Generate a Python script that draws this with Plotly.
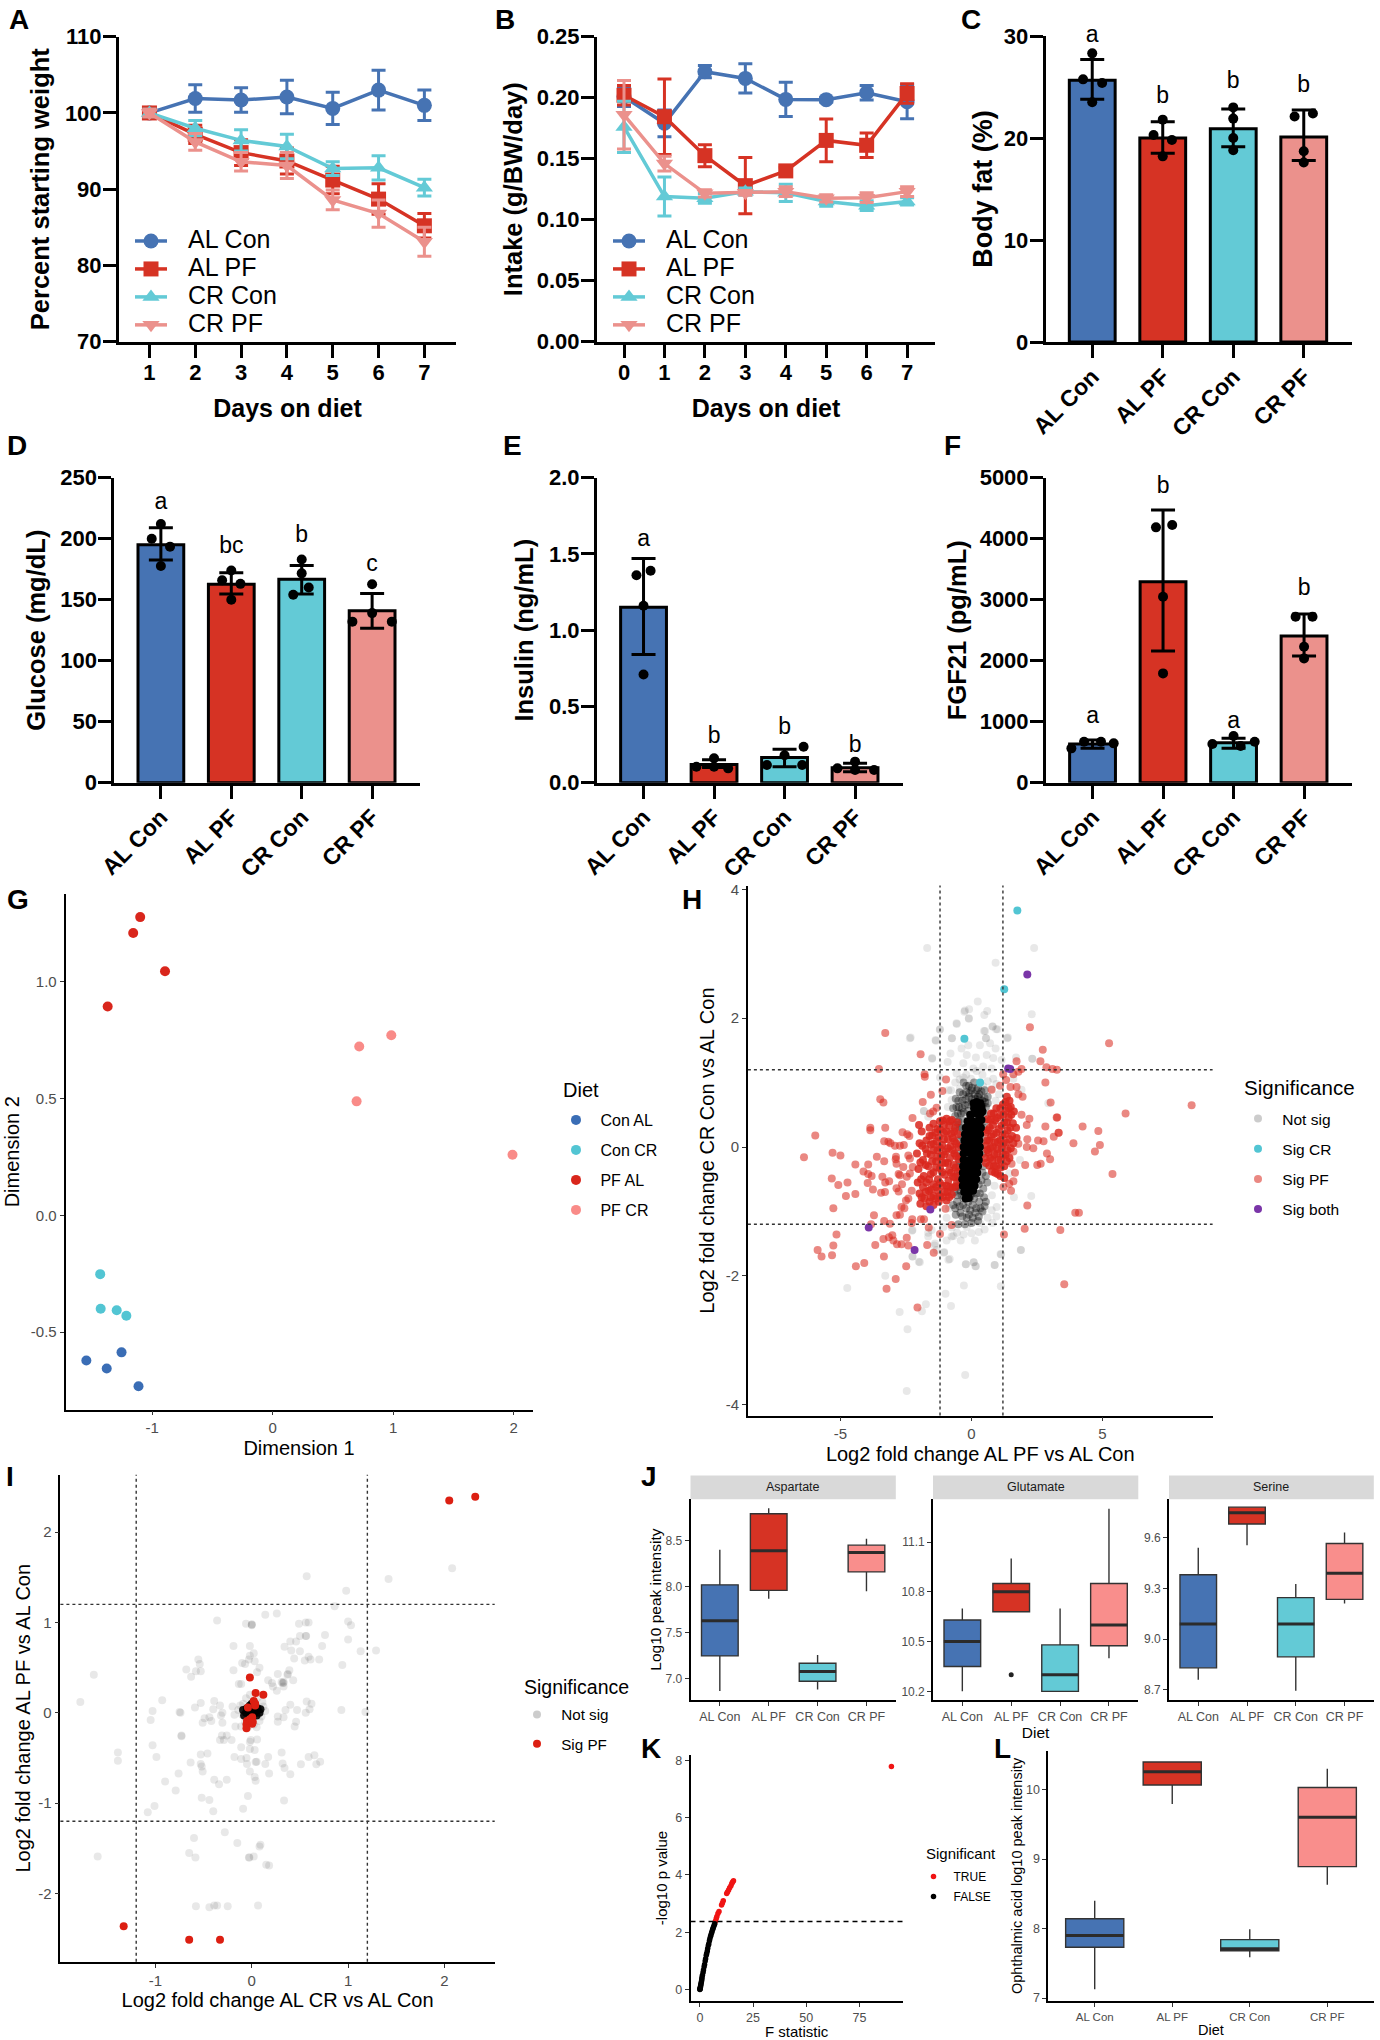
import plotly.graph_objects as go

W, H = 1380, 2040
FONT = "Liberation Sans"
BLUE, RED, CYAN, PINK = "#4673B3", "#D63324", "#63CAD6", "#EB918C"
GG_BLUE, GG_RED, GG_CYAN, GG_PINK = "#3A6DB5", "#D9261C", "#52C5D3", "#F98B88"
CATS = ["AL Con", "AL PF", "CR Con", "CR PF"]
COLS = [BLUE, RED, CYAN, PINK]

# ---------- A
A_days = [1, 2, 3, 4, 5, 6, 7]
A_al_con = [100, 101.9, 101.7, 102.1, 100.6, 103, 101]
A_al_con_e = [0.7, 1.8, 1.6, 2.2, 2.1, 2.6, 2]
A_al_pf = [100, 97.2, 94.8, 93.7, 91.2, 88.7, 85.2]
A_al_pf_e = [0.7, 1.2, 1.7, 1.7, 1.8, 2, 1.6]
A_cr_con = [100, 98, 96.4, 95.6, 92.7, 92.8, 90.2]
A_cr_con_e = [0.5, 1, 1.4, 1.6, 0.9, 1.6, 1.1]
A_cr_pf = [100, 96.2, 93.6, 93.1, 88.6, 86.8, 83.1]
A_cr_pf_e = [0.5, 1.1, 1.2, 1.7, 1.3, 1.8, 1.9]
# ---------- B
B_days = [0, 1, 2, 3, 4, 5, 6, 7]
B_al_con = [.2008, .179, .2213, .2158, .1986, .1984, .2041, .1967]
B_al_con_e = [.008, .011, .005, .012, .014, .002, .006, .014]
B_al_pf = [.202, .1844, .1525, .1279, .14, .165, .161, .2035]
B_al_pf_e = [.008, .031, .009, .023, .003, .0176, .01, .008]
B_cr_con = [.176, .119, .1175, .123, .122, .115, .1115, .115]
B_cr_con_e = [.021, .016, .004, .003, .007, .004, .004, .003]
B_cr_pf = [.186, .146, .1216, .122, .123, .1175, .118, .123]
B_cr_pf_e = [.028, .006, .003, .002, .004, .003, .004, .004]
# ---------- C-F: bars, upper cap, lower cap, points, letters
C_bar = [25.65, 20, 20.9, 20.1]
C_hi = [27.7, 21.6, 22.85, 22.75]
C_lo = [23.8, 18.5, 19.15, 17.8]
C_pts_x = [0, -.13, .14, 0, 1, .87, 1.13, 1, 2, 2, 2, 2, 2.87, 3.13, 3, 3]
C_pts_y = [28.3, 25.75, 25.4, 23.5, 21.8, 20.3, 19.8, 18.2, 23, 21.9, 20, 18.8, 22.1, 22.4, 18.7, 17.6]
C_let = ["a", "b", "b", "b"]
C_let_y = [29.95, 24, 25.5, 25.1]
D_bar = [195, 162.6, 166.7, 141]
D_hi = [209, 172, 178, 155]
D_lo = [182.5, 154.6, 154.6, 126.5]
D_pts_x = [0, -.13, .13, 0, 1, .87, 1.13, 1, 2, 2, 2.1, 1.88, 3, 3, 2.72, 3.28]
D_pts_y = [212, 200, 193.5, 177.6, 174, 166, 163, 150, 183, 171.6, 160, 154, 162.6, 139, 132, 132]
D_let = ["a", "bc", "b", "c"]
D_let_y = [229, 193, 201.6, 178]
E_bar = [1.15, .12, .166, .098]
E_hi = [1.47, .15, .22, .127]
E_lo = [.84, .1, .105, .072]
E_pts_x = [.1, -.1, 0, 0, 1, .75, 1, 1.2, 2.27, 2, 1.75, 2.25, 3, 2.75, 3, 3.27]
E_pts_y = [1.39, 1.36, 1.16, .71, .16, .105, .105, .094, .236, .18, .116, .116, .138, .094, .083, .083]
E_let = ["a", "b", "b", "b"]
E_let_y = [1.59, .30, .36, .236]
F_bar = [634, 3295, 656, 2404]
F_hi = [700, 4470, 727, 2765]
F_lo = [563, 2158, 563, 2077]
F_pts_x = [-.12, .12, .3, -.3, .9, 1.13, 1, 1, 2, 2.3, 1.7, 2.1, 2.88, 3.12, 3, 3]
F_pts_y = [672, 672, 645, 563, 4186, 4224, 3049, 1792, 765, 672, 634, 601, 2721, 2721, 2230, 2038]
F_let = ["a", "b", "a", "b"]
F_let_y = [1071, 4836, 984, 3175]
# ---------- G
G_con_al = [(-1.547, -.6215), (-1.255, -.587), (-1.378, -.656), (-1.114, -.732)]
G_con_cr = [(-1.432, -.252), (-1.428, -.40), (-1.295, -.407), (-1.215, -.43)]
G_pf_al = [(-1.10, 1.277), (-1.158, 1.209), (-.894, 1.045), (-1.37, .894)]
G_pf_cr = [(.984, .771), (.718, .723), (.696, .488), (1.99, .259)]
# ---------- H
H_notsig = [(-1.69,3.09),(2.39,3.09),(.92,2.86),(.24,2.26),(-.27,2.10),(-.09,2.14),(.60,2.11),(.49,2.05),(-.10,1.99),(2.30,2.06),(-.56,1.91),(.80,1.87),(.94,1.83),(.48,1.80),(-1.21,1.82),(-2.35,1.69),(-1.36,1.65),(-.75,1.69),(.56,1.69),(1.36,1.69),(-1.50,1.37),(2.32,1.37),(-1.82,.56),(2.93,.68),(2.28,-.76),(1.62,-.78),(1.89,-1.60),(-2.01,-1.78),(-2.25,-1.70),(-3.29,-2.0),(-4.74,-2.19),(-.29,-2.15),(1.12,-2.16),(-.99,-2.28),(-1.74,-2.44),(-.78,-2.47),(-1.89,-2.55),(-2.74,-2.56),(-2.44,-2.83),(-.24,-3.54),(-2.47,-3.79),(-.22,-1.82),(.09,-1.79),(.15,-1.85),(.89,-1.83),(1.11,-1.66),(-.83,-1.74),(-1.04,-1.63),(-2.27,-1.30),(-1.65,-1.33),(-1.41,-1.53),(-1.33,-1.60),
(-1.2,1.83),(-2.32,1.70),(-1.37,1.66),(-.57,1.92),(-.25,2.12),(-.1,2.0),(.52,1.80),(.81,1.87),(.99,1.83),(-.74,1.69),(.55,1.69),(.71,1.61),(.92,1.53),(1.39,1.7),(.32,1.58),(-.38,1.53),(-.12,1.58),(-.8,1.45),(-1.5,1.38),(-.91,1.32),(-.18,1.43),(.17,1.39),(.58,1.43),(.83,1.38),(1.15,1.35),(1.7,1.39),(2.32,1.37),(-.31,1.3),(.45,1.25),(.07,1.22),(.77,1.22),(-.57,1.14),(-1.2,1.08),(-.31,1.08),(-.02,1.06),(.83,1.06),(1.6,1.06),(-.88,.88),(-.44,.91),(.45,.94),(1.91,.89),(-.76,.73),(-1.81,.56),(-1.65,.47),(-1.71,.03),(1.85,-.2),(1.44,-.41),(.96,-.93),(.77,-.98),(.39,-.98),(.07,-1.16),(.32,-1.18),(-.76,-1.39),(-.69,-1.38),(-.41,-1.45),(.13,-1.45),(0,-1.34),(-.18,-1.24),(-1.07,-1.24),(-1.52,-1.29),(-1.39,-1.5),(-1.65,-1.39),(-2.25,-1.29),(-1.97,-1.79),(-2.25,-1.7),(-1.05,-1.64),(-.88,-1.75),(-.21,-1.82),(.08,-1.79),(.17,-1.85),(.88,-1.83),(1.13,-1.67),(1.88,-1.6),
(-.62,1.0),(-.45,1.05),(-.2,1.12),(.2,1.18),(.42,1.12),(.62,1.02),(.95,.98),(-.78,.88),(.75,.9),(1.05,.82),(-.9,.62),(.92,.72),(-.98,-.75),(-.85,-.95),(.78,-.75),(.88,-.6),(-.95,-1.1),(.62,-1.1),(.8,-1.18),(-.75,-1.25),(.5,-1.28),(.28,-1.32),(-.55,-1.33),(-.3,-1.36),(-.95,-1.45),(.95,-1.08)]
H_halo = [(-.3,1.0),(-.1,.95),(.1,1.0),(.25,.92),(-.45,.85),(-.2,.85),(0,.88),(.3,.82),(.5,.88),(-.6,.75),(-.35,.72),(-.1,.78),(.15,.75),(.42,.72),(.62,.78),(-.7,.6),(-.48,.62),(-.25,.65),(.02,.68),(.28,.65),(.55,.62),(-.62,.48),(-.4,.52),(.4,.55),(-.6,.35),(.5,.4),
(-.55,-.75),(-.3,-.8),(-.05,-.78),(.2,-.72),(.45,-.65),(-.7,-.9),(-.45,-.92),(-.2,-.95),(.05,-.9),(.3,-.85),(.55,-.85),(-.6,-1.05),(-.35,-1.08),(-.1,-1.05),(.15,-1.02),(.42,-1.0),(-.5,-1.2),(-.25,-1.2),(0,-1.18),(.25,-1.15),(-.65,-.7),(.6,-.55),(-.55,-.6),(.55,-.45),(-.45,-.5),(.45,-.3),(-.45,.3),(-.45,.1),(-.45,-.1),(-.45,-.3),(.45,.3),(.45,.1),(.45,-.1),
(-.2,.95),(.02,.92),(.2,.88),(.38,.86),(-.32,.82),(-.08,.84),(.12,.82),(.24,.78),(.5,.76),(-.5,.72),(-.22,.74),(.02,.74),(.32,.74),(.52,.7),(-.58,.62),(-.36,.6),(-.12,.66),(.14,.66),(.42,.63),(.62,.68),(-.52,.52),(-.3,.54),(-.12,.56),(.3,.58),(.48,.52),(-.5,.4),(-.35,.42),(-.38,.3),(-.4,.18),(-.4,.02),(-.42,-.15),(-.45,-.22),(-.46,-.38),(-.52,-.45),(-.48,-.62),(-.42,-.68),(-.38,-.75),(-.2,-.72),(-.12,-.85),(.02,-.72),(.1,-.62),(.1,-.8),(.28,-.58),(.32,-.72),(.38,-.52),(.42,-.4),(.18,-.95),(.34,-.95),(-.05,-.98),(-.32,-.9),(-.55,-.85),(-.18,-1.1),(.05,-1.1),(-.42,-1.02),(.28,-1.08),(-.62,-.95),(.48,-.78),(.5,-.92)]
H_core = [(.1,.6),(.25,.61),(-.05,.5),(.1,.52),(.28,.49),(-.15,.4),(0,.41),(.15,.39),(.3,.4),(-.22,.3),(-.07,.31),(.08,.29),(.23,.3),(-.25,.2),(-.1,.21),(.05,.19),(.2,.2),(-.27,.1),(-.12,.11),(.03,.09),(.18,.1),(-.3,0),(-.14,.01),(.02,-.01),(.17,0),(-.3,-.1),(-.15,-.09),(0,-.11),(.15,-.1),(-.3,-.2),(-.15,-.21),(0,-.19),(.15,-.2),(-.32,-.3),(-.17,-.31),(-.02,-.29),(.12,-.3),(-.33,-.4),(-.18,-.41),(-.03,-.39),(.1,-.4),(-.35,-.5),(-.2,-.51),(-.05,-.49),(.08,-.5),(-.33,-.6),(-.17,-.61),(0,-.59),(-.28,-.7),(-.1,-.71),
(.32,0),(.3,.1),(.33,.2),(.36,.3),(.38,.42),(.35,.52),(.3,-.1),(.28,-.2),(.25,-.3),(.22,-.4),(.18,-.5),(.12,-.6),(.2,.7),(.34,.68),(-.22,-.8),(-.1,-.79),(.06,-.68),(.42,.55),(.38,.62),(.08,.68)]
H_sig_pf = [(-3.29,1.77),(-1.94,1.44),(-3.53,1.21),(-1.79,1.13),(-1.78,1.09),(-.97,1.05),(-1.11,.87),(-1.55,.81),(-3.48,.74),(-3.36,.69),(-1.86,.70),(-1.33,.61),(-1.46,.55),(-1.58,.52),(-2.25,.45),(-3.86,.30),(-3.86,.26),(-3.29,.30),(-5.96,.18),(-2.63,.23),(-2.45,.20),(-2.37,.17),(-3.33,.09),(-3.17,.08),(-3.09,.06),(-2.92,.02),(-2.73,.02),(-2.58,.03),(-5.3,-.09),(-5.0,-.13),(-6.39,-.16),(-3.61,-.15),(-2.88,-.15),(-2.89,-.19),(-3.33,-.22),(-2.86,-.26),(-4.43,-.27),(-3.94,-.27),(-4.12,-.38),(-3.94,-.42),(-3.81,-.45),(-5.33,-.49),(-5.08,-.59),(-4.79,-.76),(-4.73,-.55),(-4.43,-.73),(-3.96,-.56),(-3.76,-.66),(-3.40,-.46),(-3.29,-.55),(-3.14,-.53),(-3.45,-.71),(-3.30,-.70),(-2.78,-.42),(-2.73,-.44),(-2.65,-.58),(-2.86,-.64),(-2.78,-.69),(-2.41,-.13),(-2.35,-.18),(-2.6,-.31),(-2.24,-.31),(-2.35,-.41),(-2.47,-.46),(-5.27,-.95),(-3.72,-1.06),(-3.83,-1.2),(-3.33,-1.15),(-3.11,-1.19),(-2.86,-1.06),(-2.73,-1.05),(-2.67,-.93),(-2.5,-.83),(-2.41,-.8),(-2.56,-.95),(-2.28,-.68),(-2.26,-1.12),(-2.28,-1.18),(-1.93,-1.12),(-1.81,-1.12),(-1.63,-1.25),(-1.2,-1.35),(-.76,-1.21),(-.99,-.96),(-5.15,-1.36),(-5.87,-1.60),(-5.72,-1.70),(-5.32,-1.68),(-5.27,-1.53),(-4.41,-1.85),(-4.09,-1.80),(-3.67,-1.52),(-3.34,-1.70),(-3.36,-1.43),(-3.15,-1.40),(-3.02,-1.37),(-2.98,-1.45),(-2.84,-1.51),(-2.67,-1.51),(-2.47,-1.41),(-2.41,-1.53),(-1.69,-1.52),(-1.44,-1.64),(-2.49,-1.85),(-2.89,-2.05),(-3.24,-2.2),(-2.06,-2.49),
(2.23,1.86),(2.72,1.51),(2.63,1.33),(1.72,1.33),(2.86,1.24),(3.09,1.21),(3.26,1.2),(1.91,1.21),(1.79,1.17),(1.6,1.13),(1.32,1.04),(1.21,1.13),(2.82,1.0),(.77,.89),(1.09,.95),(1.49,.93),(1.72,.93),(1.79,.82),(1.95,.78),(3.02,.69),(1.91,.5),(2.21,.44),(2.11,.34),(3.25,.46),(2.82,.32),(4.24,.32),(4.84,.25),(3.33,.22),(3.14,.16),(3.89,.06),(4.71,-.07),(4.9,.03),(2.13,.12),(2.54,.1),(2.75,.09),(2.36,-.02),(2.11,.0),(1.79,.05),(1.6,-.07),(2.88,-.1),(3.0,-.19),(2.64,-.26),(2.51,-.28),(2.05,-.28),(1.53,-.26),(1.66,-.4),(1.6,-.53),(1.44,-.57),(1.51,-.68),(1.22,-.62),(2.13,-.91),(3.96,-1.02),(4.1,-1.02),(2.03,-1.27),(1.24,-1.36),(3.39,-1.29),(3.54,-2.13),(5.25,1.61),(5.88,.52),(8.4,.65),(5.38,-.42),(3.27,.46),(3.32,.22)]
H_red_left = [(-.95,.44),(-.75,.42),(-1.2,.4),(-.55,.38),(-1.45,.36),(-1.05,.34),(-.85,.33),(-.62,.3),(-2.0,.34),(-1.6,.3),(-1.3,.28),(-1.9,.24),(-1.05,.22),(-.78,.21),(-.52,.2),(-1.5,.18),(-1.25,.15),(-.9,.12),(-1.72,.1),(-.65,.09),(-1.98,.06),(-1.45,.05),(-1.12,.03),(-.8,.01),(-.5,0),(-1.75,-.03),(-1.3,-.05),(-.98,-.07),(-.65,-.1),(-2.08,-.1),(-1.55,-.12),(-1.15,-.14),(-.82,-.17),(-.5,-.19),(-1.85,-.2),(-1.35,-.22),(-1.0,-.25),(-.68,-.28),(-1.65,-.3),(-2.02,-.34),(-1.2,-.33),(-.85,-.36),(-.52,-.38),(-1.45,-.39),(-1.02,-.43),(-.7,-.46),(-1.82,-.45),(-1.62,-.5),(-1.28,-.5),(-.88,-.52),(-.55,-.55),(-2.05,-.55),(-1.45,-.58),(-1.1,-.6),(-.72,-.63),(-1.85,-.62),(-1.62,-.68),(-1.28,-.68),(-.92,-.7),(-1.98,-.72),(-1.45,-.76),(-1.1,-.78),(-.75,-.74),(-1.8,-.8),(-1.6,-.85),(-1.25,-.85),(-1.95,-.88),(-.95,-.83),(-1.45,-.9),(-1.72,-.92),
(-.82,.4),(-1.1,.41),(-.66,.24),(-1.2,.27),(-.95,.24),(-1.38,.22),(-1.6,.17),(-1.05,.12),(-.72,.14),(-1.32,.09),(-.58,.05),(-1.55,.04),(-.9,-.02),(-1.2,-.01),(-1.88,.02),(-1.45,-.05),(-.72,-.05),(-1.05,-.12),(-1.7,-.1),(-.58,-.14),(-1.3,-.15),(-.9,-.25),(-1.5,-.22),(-1.12,-.24),(-1.75,-.28),(-.6,-.32),(-1.35,-.32),(-1.95,-.24),(-.78,-.4),(-1.12,-.39),(-1.55,-.42),(-1.92,-.5),(-.62,-.47),(-.95,-.6),(-1.2,-.56),(-1.72,-.55),(-1.35,-.62),(-.62,-.62),(-.82,-.62),(-1.55,-.66),(-1.75,-.7),(-1.02,-.7),(-1.2,-.76),(-.85,-.78),(-1.35,-.8),(-1.55,-.78),(-1.9,-.78)]
H_red_right = [(1.35,.78),(1.45,.72),(1.2,.66),(1.5,.62),(.95,.6),(1.32,.56),(1.62,.55),(.75,.52),(1.1,.49),(1.42,.46),(.62,.43),(.9,.41),(1.25,.38),(1.58,.37),(1.7,.3),(.7,.3),(1.05,.28),(1.38,.26),(.55,.22),(.85,.2),(1.18,.18),(1.55,.17),(1.72,.14),(.68,.1),(1.0,.08),(1.32,.07),(.55,.02),(.82,0),(1.15,-.01),(1.5,-.02),(.65,-.09),(.98,-.1),(1.3,-.12),(.52,-.17),(.8,-.2),(1.12,-.2),(1.45,-.17),(.68,-.29),(.95,-.3),(1.25,-.3),(.9,-.4),(1.1,-.45),(1.25,-.48),
(1.3,.7),(1.1,.6),(1.42,.6),(.85,.52),(1.22,.5),(1.52,.5),(.98,.45),(.72,.42),(1.35,.38),(.82,.34),(1.15,.33),(1.48,.3),(.62,.26),(.95,.22),(1.28,.2),(1.45,.12),(.75,.16),(1.1,.11),(.6,.1),(.9,.07),(1.22,.05),(1.6,.06),(.72,-.02),(1.0,-.03),(1.38,-.05),(.6,-.05),(.88,-.12),(1.2,-.12),(.55,-.25),(.72,-.17),(1.02,-.2),(1.35,-.22),(.85,-.3),(1.12,-.32),(.78,-.38),(1.0,-.42)]
H_sig_cr = [(1.75, 3.67), (1.25, 2.45), (-.27, 1.68), (.33, 1.0)]
H_sig_both = [(2.13, 2.68), (1.4, 1.22), (1.48, 1.21), (-1.57, -.97), (-3.92, -1.25), (-2.17, -1.6)]
# ---------- I
I_notsig = [(-1.78,.12),(-1.64,.42),(-1.39,-.44),(-1.39,-.53),(-1.60,-1.59),(-1.08,-1.10),(-1.01,-1.03),(-.79,-.86),(-.90,-.76),(-.76,-.67),(-.99,-.49),(-1.03,-.36),(-1.05,-.08),(-1.03,.02),(-.93,.14),(-.75,.01),(-.74,0),(-.73,-.26),(-.73,-.25),(-.68,.48),(-.63,.40),(-.58,.46),(-.555,.59),(-.54,.54),(-.53,.46),(-.59,.06),(-.53,.11),(-.51,-.11),(-.49,-.06),(-.44,-.05),(-.42,-.09),(-.39,.13),(-.40,.04),(-.33,.08),(-.305,0),(-.32,-.03),(-.305,-.11),(-.31,-.25),(-.33,-.30),(-.29,-.30),(-.26,-.25),(-.21,-.30),(-.19,.74),(-.36,1.02),(-.19,.47),(-.11,.32),(-.135,.32),(-.10,.55),(-.07,.54),(-.02,.74),(-.02,.63),(-.03,.59),(.02,.66),(.03,.57),(.055,.45),(.08,.50),(-.06,.985),(0,.97),(0,.975),(0,.98),(.14,1.085),(.26,1.10),(.86,1.18),(.98,1.35),(1.42,1.48),(.57,1.51),(2.08,1.60),(1.0,1.01),(1.03,.97),(1.0,.81),(1.29,.69),(1.13,.68),(.94,.53),(.76,.86),(.73,.74),(.56,1.0),(.59,1.0),(.49,.985),(.50,.85),(.56,.85),(.565,.85),(.40,.79),(.46,.79),(.34,.73),(.41,.69),(.50,.68),(.44,.60),(.55,.58),(.59,.62),(.61,.59),(.70,.59),(.39,.47),(.37,.42),(.375,.43),(.43,.36),(.33,.345),(.32,.33),(.31,.34),(.33,.33),(.21,.33),(.17,.36),(.27,.43),(.22,.29),(.26,.245),(.33,.29),(.57,.125),(.62,.10),(.60,.04),(.56,0),(.47,.03),(.35,.03),(.40,.09),(.27,-.04),(.33,-.05),(.27,-.10),(.46,-.10),(.445,-.15),(.93,.03),(1.18,.01),(-.18,-.02),(-.17,-.15),(-.11,-.15),(-.20,.07),(.055,-.295),(-.02,-.32),(-.01,-.30),(-.02,-.40),(-.11,-.38),(-.18,-.49),(-.11,-.51),(-.055,-.50),(.03,-.41),(.04,-.545),(.05,-.54),(-.05,-.565),(-.02,-.65),(.03,-.71),(.04,-.75),(.18,-.67),(.14,-.565),(.31,-.44),(.32,-.56),(.34,-.61),(.40,-.68),(.51,-.57),(.59,-.49),(.65,-.47),(.67,-.57),(.71,-.54),(.17,-.49),(-.53,-.46),(-.46,-.45),(-.53,-.565),(-.52,-.595),(-.51,-.65),(-.635,-.55),(-.39,-.74),(-.26,-.74),(-.34,-.79),(-.52,-.94),(-.44,-.965),(-.40,-1.09),(-.09,-1.06),(-.04,-.92),(.335,-.97),(-.60,-1.385),(-.28,-1.32),(-.15,-1.44),(.08,-1.48),(.09,-1.46),(-.03,-1.60),(-.025,-1.60),(.02,-1.59),(.15,-1.68),(.18,-1.69),(-.65,-1.55),(-.585,-1.60),(-.58,-2.14),(-.44,-2.15),(-.39,-2.13),(-.36,-2.13),(-.25,-2.14),(.065,-2.13),
(-.12,.08),(-.1,-.02),(-.09,.1),(.12,.07),(.1,-.04),(.11,.12),(-.06,.16),(.06,.17),(-.07,-.1),(.08,-.09),(-.14,.03),(.14,.02),(-.02,.2),(.02,-.13),(-.04,-.16),(.05,-.16)]
I_core = [(-.05,.05),(-.03,.03),(-.02,.08),(0,.04),(.02,.07),(.04,.02),(.06,.05),(-.06,0),(-.02,-.02),(.02,-.02),(.05,-.03),(0,.1),(.03,.1),(-.09,.03),(.09,.04),(-.08,-.03),(.08,0)]
I_sig_pf = [(2.05,2.35),(2.32,2.39),(-.02,.39),(.04,.22),(.12,.20),(-1.33,-2.36),(-.65,-2.51),(-.33,-2.51),(-.04,.06),(.02,.13),(.035,.10),(-.05,-.09),(-.055,-.13),(-.055,-.17),(-.02,-.07),(.005,-.05),(.005,-.12),(.035,.08),(.01,-.10)]
# ---------- J, L boxes: lower whisker, q1, median, q3, upper whisker
J_asp = dict(lo=[6.87, 7.87, 6.885, 7.95], q1=[7.25, 7.96, 6.975, 8.16], med=[7.63, 8.39, 7.08, 8.37], q3=[8.02, 8.79, 7.17, 8.45], hi=[8.40, 8.85, 7.26, 8.52])
J_glu = dict(lo=[10.2, 10.68, 10.2, 10.4], q1=[10.35, 10.68, 10.2, 10.475], med=[10.5, 10.80, 10.3, 10.6], q3=[10.63, 10.85, 10.48, 10.85], hi=[10.70, 11.0, 10.70, 11.3])
J_ser = dict(lo=[8.76, 9.555, 8.695, 9.21], q1=[8.83, 9.68, 8.895, 9.235], med=[9.09, 9.747, 9.09, 9.39], q3=[9.38, 9.78, 9.245, 9.565], hi=[9.54, 9.78, 9.325, 9.63])
J_glu_outlier_y = [10.3]
L_oph = dict(lo=[7.125, 9.79, 7.585, 8.63], q1=[7.73, 10.065, 7.68, 8.89], med=[7.9, 10.255, 7.71, 9.6], q3=[8.14, 10.395, 7.84, 10.03], hi=[8.4, 10.395, 7.99, 10.3])
# ---------- K
K_false_F = [0, .05, .1, .2, .3, .4, .5, .65, .8, .9, 1, 1.2, 1.5, 1.7, 2, 2.2, 2.5, 2.7, 3, 3.2, 3.5, 3.7, 4, 4.2, 4.5, 4.7, 5, 5.2, 5.5, 5.7, 6, 6.2, 6.5, 6.8, 7]
K_false_p = [0, .02, .03, .07, .1, .15, .2, .25, .3, .36, .42, .5, .6, .68, .8, .88, 1.0, 1.08, 1.2, 1.26, 1.35, 1.44, 1.55, 1.6, 1.7, 1.77, 1.85, 1.9, 1.97, 2.03, 2.1, 2.14, 2.2, 2.26, 2.3]
K_true_F = [7.3, 7.7, 8, 8.5, 9, 10.2, 10.6, 11, 12.6, 13, 13.5, 14, 14.6, 15, 15.4, 15.8, 90]
K_true_p = [2.38, 2.48, 2.55, 2.65, 2.72, 2.95, 3.02, 3.1, 3.35, 3.4, 3.47, 3.55, 3.62, 3.7, 3.75, 3.8, 7.78]

fig = go.Figure()
layout = dict(width=W, height=H, margin=dict(l=0, r=0, t=0, b=0, pad=0, autoexpand=False),
              plot_bgcolor="white", paper_bgcolor="white", font=dict(family=FONT, color="black"),
              showlegend=True, annotations=[], shapes=[])


def xd(l, r):
    return [l / W, r / W]


def yd(t, b):
    return [1 - b / H, 1 - t / H]


def prism(n, l, r, t, b, xr, yr, xtitle, ytitle, xticks, xlabels, yticks, ylabels, xso, yso, angle=0, ysize=25.5):
    tf = dict(family=FONT, size=22, color="black", weight="bold")
    common = dict(showline=True, linewidth=3, linecolor="black", ticks="outside", ticklen=13, tickwidth=3,
                  tickcolor="black", showgrid=False, zeroline=False)
    sfx = "" if n == 1 else str(n)
    xtf = dict(tf, size=23) if angle else tf
    layout["xaxis" + sfx] = dict(domain=xd(l, r), range=xr, anchor="y" + sfx, tickmode="array", tickvals=xticks,
                                 ticktext=xlabels, tickangle=angle, tickfont=xtf, ticklabelstandoff=-4,
                                 title=dict(text=xtitle, font=dict(family=FONT, size=25, color="black", weight="bold"), standoff=xso), **common)
    layout["yaxis" + sfx] = dict(domain=yd(t, b), range=yr, anchor="x" + sfx, tickmode="array", tickvals=yticks,
                                 ticktext=ylabels, tickfont=tf, ticklabelstandoff=-3,
                                 title=dict(text=ytitle, font=dict(family=FONT, size=ysize, color="black", weight="bold"), standoff=yso), **common)


def gg(n, l, r, t, b, xr, yr, xtitle, ytitle, xticks, xlabels, yticks, ylabels, xso, yso,
       tick=15, title=20, tickx=None):
    sfx = str(n)
    tf = dict(family=FONT, size=tick, color="#4d4d4d")
    tfx = dict(family=FONT, size=tickx or tick, color="#4d4d4d")
    tl = dict(family=FONT, size=title, color="black")
    common = dict(showline=True, linewidth=1.6, linecolor="black", ticks="outside", ticklen=4, tickwidth=1.2,
                  tickcolor="#333333", showgrid=False, zeroline=False)
    layout["xaxis" + sfx] = dict(domain=xd(l, r), range=xr, anchor="y" + sfx, tickmode="array", tickvals=xticks,
                                 ticktext=xlabels, tickfont=tfx, title=dict(text=xtitle, font=tl, standoff=xso), **common)
    layout["yaxis" + sfx] = dict(domain=yd(t, b), range=yr, anchor="x" + sfx, tickmode="array", tickvals=yticks,
                                 ticktext=ylabels, tickfont=tf, title=dict(text=ytitle, font=tl, standoff=yso), **common)


def axn(n):
    return ("x", "y") if n == 1 else (f"x{n}", f"y{n}")


def lines(n, x, name, y, e, color, symbol, size, leg):
    xa, ya = axn(n)
    fig.add_trace(go.Scatter(x=x, y=y, name=f'&#160;&#160;&#160;<span style="font-size:25px">{name}</span>', mode="lines+markers", xaxis=xa, yaxis=ya,
                             line=dict(color=color, width=3.5), marker=dict(color=color, symbol=symbol, size=size),
                             error_y=dict(type="data", array=e, thickness=3, width=7, color=color),
                             legend=leg, cliponaxis=False))


def bars(n, y, hi, lo, px, py, let, let_y):
    xa, ya = axn(n)
    idx = [0, 1, 2, 3]
    fig.add_trace(go.Bar(x=idx, y=y, width=.65, marker=dict(color=COLS, line=dict(color="black", width=3)),
                         error_y=dict(type="data", symmetric=False, array=[h - v for h, v in zip(hi, y)],
                                      arrayminus=[v - l for v, l in zip(y, lo)], thickness=3, width=12, color="black"),
                         xaxis=xa, yaxis=ya, showlegend=False))
    fig.add_trace(go.Scatter(x=px, y=py, mode="markers", marker=dict(color="black", size=10), xaxis=xa, yaxis=ya,
                             showlegend=False, cliponaxis=False))
    fig.add_trace(go.Scatter(x=idx, y=let_y, mode="text", text=let, textfont=dict(family=FONT, size=23, color="black"),
                             xaxis=xa, yaxis=ya, showlegend=False, cliponaxis=False))


def pts(n, data, name, color, size, opacity, leg=None, pad="&#160;"):
    xa, ya = axn(n)
    fig.add_trace(go.Scatter(x=[p[0] for p in data], y=[p[1] for p in data], mode="markers", name=pad + name,
                             marker=dict(color=color, size=size, opacity=opacity, line=dict(width=0)),
                             xaxis=xa, yaxis=ya, showlegend=leg is not None, legend=leg or "legend",
                             legendgroup=name if leg else None))


def boxes(n, d, px, med_w=3):
    xa, ya = axn(n)
    for i, c in enumerate([BLUE, RED, CYAN, "#F98E8C"]):
        fig.add_trace(go.Box(x=[i], q1=[d["q1"][i]], median=[d["med"][i]], q3=[d["q3"][i]],
                             lowerfence=[d["lo"][i]], upperfence=[d["hi"][i]], width=.75, whiskerwidth=0,
                             fillcolor=c, line=dict(color="#333333", width=1.4), boxpoints=False,
                             xaxis=xa, yaxis=ya, showlegend=False))
    fig.add_trace(go.Scatter(x=[0, 1, 2, 3], y=d["med"], mode="markers", xaxis=xa, yaxis=ya, showlegend=False,
                             marker=dict(symbol="line-ew", size=px / 1.4, line=dict(color="#2b2b2b", width=med_w))))


# ---- A, B
prism(1, 119, 456, 36.7, 341.7, [.336, 7.69], [70, 110], "Days on diet", "Percent starting weight",
      A_days, [str(d) for d in A_days], [70, 80, 90, 100, 110], ["70", "80", "90", "100", "110"], 16, 8)
prism(2, 597, 935, 36.7, 341.7, [-.668, 7.69], [0, .25], "Days on diet", "Intake (g/BW/day)",
      B_days, [str(d) for d in B_days], [0, .05, .1, .15, .2, .25], ["0.00", "0.05", "0.10", "0.15", "0.20", "0.25"], 16, 7)
for n, x, series, leg in [
    (1, A_days, [(A_al_con, A_al_con_e), (A_al_pf, A_al_pf_e), (A_cr_con, A_cr_con_e), (A_cr_pf, A_cr_pf_e)], "legend"),
    (2, B_days, [(B_al_con, B_al_con_e), (B_al_pf, B_al_pf_e), (B_cr_con, B_cr_con_e), (B_cr_pf, B_cr_pf_e)], "legend2"),
]:
    for (y, e), name, c, sym in zip(series, CATS, COLS, ["circle", "square", "triangle-up", "triangle-down"]):
        lines(n, x, name, y, e, c, sym, 15, leg)

# ---- C-F
BX = [0, 1, 2, 3]
prism(3, 1045.7, 1351.7, 36, 342, [-.66, 3.68], [0, 30], "", "Body fat (%)", BX, CATS, [0, 10, 20, 30], ["0", "10", "20", "30"], 0, 4, -45, 27)
prism(4, 114.4, 420, 477.7, 782.7, [-.66, 3.68], [0, 250], "", "Glucose (mg/dL)", BX, CATS, [0, 50, 100, 150, 200, 250], ["0", "50", "100", "150", "200", "250"], 0, 8, -45)
prism(5, 597, 903, 477.7, 782.7, [-.66, 3.68], [0, 2], "", "Insulin (ng/mL)", BX, CATS, [0, .5, 1, 1.5, 2], ["0.0", "0.5", "1.0", "1.5", "2.0"], 0, 9, -45)
prism(6, 1046, 1352, 477.7, 782.7, [-.66, 3.68], [0, 5000], "", "FGF21 (pg/mL)", BX, CATS, [0, 1000, 2000, 3000, 4000, 5000], ["0", "1000", "2000", "3000", "4000", "5000"], 0, 6, -45)
bars(3, C_bar, C_hi, C_lo, C_pts_x, C_pts_y, C_let, C_let_y)
bars(4, D_bar, D_hi, D_lo, D_pts_x, D_pts_y, D_let, D_let_y)
bars(5, E_bar, E_hi, E_lo, E_pts_x, E_pts_y, E_let, E_let_y)
bars(6, F_bar, F_hi, F_lo, F_pts_x, F_pts_y, F_let, F_let_y)

# ---- G
gg(7, 65.5, 532.5, 894, 1409.5, [-1.72, 2.156], [-.8317, 1.376], "Dimension 1", "Dimension 2", [-1, 0, 1, 2], ["-1", "0", "1", "2"],
   [-.5, 0, .5, 1], ["-0.5", "0.0", "0.5", "1.0"], 6, 6)
pts(7, G_con_al, "Con AL", GG_BLUE, 10, 1, "legend3")
pts(7, G_con_cr, "Con CR", GG_CYAN, 10, 1, "legend3")
pts(7, G_pf_al, "PF AL", GG_RED, 10, 1, "legend3")
pts(7, G_pf_cr, "PF CR", GG_PINK, 10, 1, "legend3")

# ---- H
gg(8, 747.9, 1212.6, 885.5, 1415.6, [-8.53, 9.2], [-4.17, 4.06], "Log2 fold change AL PF vs AL Con", "Log2 fold change CR Con vs AL Con",
   [-5, 0, 5], ["-5", "0", "5"], [-4, -2, 0, 2, 4], ["-4", "-2", "0", "2", "4"], 6, 6)
pts(8, H_notsig, "Not sig", "black", 8, .09, "legend4")
pts(8, H_halo, "Not sig dense", "black", 8, .36)
pts(8, H_sig_pf, "Sig PF", GG_RED, 8, .55)
pts(8, H_red_left, "Sig PF dense left", "#D9261C", 8, .85)
pts(8, H_red_right, "Sig PF dense right", "#D9261C", 8, .85)
pts(8, H_core, "Not sig core", "black", 8, 1)
pts(8, H_sig_cr, "Sig CR", GG_CYAN, 8, 1, "legend4")
xa8, ya8 = axn(8)
fig.add_trace(go.Scatter(x=[None], y=[None], mode="markers", name="&#160;Sig PF", legend="legend4", legendgroup="Sig PF",
                         marker=dict(color=GG_RED, size=8, opacity=.55), xaxis=xa8, yaxis=ya8))
pts(8, H_sig_both, "Sig both", "#7A35A8", 8, 1, "legend4")

# ---- I
gg(9, 60.4, 494.7, 1474.8, 1961.7, [-1.987, 2.522], [-2.753, 2.633], "Log2 fold change AL CR vs AL Con", "Log2 fold change AL PF vs AL Con",
   [-1, 0, 1, 2], ["-1", "0", "1", "2"], [-2, -1, 0, 1, 2], ["-2", "-1", "0", "1", "2"], 1, 2)
pts(9, I_notsig, "Not sig", "black", 8, .09, "legend5")
pts(9, I_core, "Not sig core", "black", 8, .9)
pts(9, I_sig_pf, "Sig PF", "#DC1F12", 8, 1, "legend5")

# ---- dashed guides
for n, xs, ys in [(8, [-1.2, 1.2], [-1.2, 1.2]), (9, [-1.2, 1.2], [-1.2, 1.2])]:
    for v in xs:
        layout["shapes"].append(dict(type="line", xref=f"x{n}", yref=f"y{n} domain", x0=v, x1=v, y0=0, y1=1,
                                     line=dict(color="#333333", width=1.4, dash="3px,3px")))
    for v in ys:
        layout["shapes"].append(dict(type="line", xref=f"x{n} domain", yref=f"y{n}", x0=0, x1=1, y0=v, y1=v,
                                     line=dict(color="#333333", width=1.4, dash="3px,3px")))

# ---- J
JX = [0, 1, 2, 3]
gg(10, 690.5, 895.8, 1499.2, 1700, [-.6, 3.6], [6.772, 8.948], "", "Log10 peak intensity", JX, CATS, [7, 7.5, 8, 8.5], ["7.0", "7.5", "8.0", "8.5"], 0, 0, 12, 15.5, 12.5)
gg(11, 933, 1138.3, 1499.2, 1700, [-.6, 3.6], [10.148, 11.358], "Diet", "", JX, CATS, [10.2, 10.5, 10.8, 11.1], ["10.2", "10.5", "10.8", "11.1"], 0, 0, 12, 15.5, 12.5)
gg(12, 1169, 1373.8, 1499.2, 1700, [-.6, 3.6], [8.64, 9.827], "", "", JX, CATS, [8.7, 9, 9.3, 9.6], ["8.7", "9.0", "9.3", "9.6"], 0, 0, 12, 15.5, 12.5)
boxes(10, J_asp, 37)
boxes(11, J_glu, 37)
boxes(12, J_ser, 37)
xa, ya = axn(11)
fig.add_trace(go.Scatter(x=[1], y=J_glu_outlier_y, mode="markers", marker=dict(color="#222222", size=5), xaxis=xa, yaxis=ya, showlegend=False))
for n, name in [(10, "Aspartate"), (11, "Glutamate"), (12, "Serine")]:
    d = layout[f"xaxis{n}"]["domain"]
    layout["shapes"].append(dict(type="rect", xref="paper", yref="paper", x0=d[0], x1=d[1], y0=1 - 1499.2 / H, y1=1 - 1475.6 / H,
                                 fillcolor="#D9D9D9", line=dict(width=0), layer="below"))
    layout["annotations"].append(dict(text=name, xref="paper", yref="paper", x=(d[0] + d[1]) / 2, y=1 - 1487.4 / H, showarrow=False,
                                      xanchor="center", yanchor="middle", font=dict(family=FONT, size=12.5, color="#1a1a1a")))

# ---- K
gg(13, 690.5, 902.9, 1755.3, 2000.8, [-4.4, 95.4], [-.39, 8.17], "F statistic", "-log10 p value", [0, 25, 50, 75], ["0", "25", "50", "75"],
   [0, 2, 4, 6, 8], ["0", "2", "4", "6", "8"], 3, 4, 12.5, 15)
xa, ya = axn(13)
fig.add_trace(go.Scatter(x=K_true_F, y=K_true_p, mode="markers", name="TRUE", marker=dict(color="#F01414", size=5.5), xaxis=xa, yaxis=ya,
                         legend="legend6", legendgroup="TRUE"))
fig.add_trace(go.Scatter(x=K_false_F, y=K_false_p, mode="markers", name="FALSE", marker=dict(color="black", size=5.5), xaxis=xa, yaxis=ya,
                         legend="legend6", legendgroup="FALSE"))
layout["shapes"].append(dict(type="line", xref="x13 domain", yref="y13", x0=0, x1=1, y0=2.374, y1=2.374,
                             line=dict(color="black", width=1.4, dash="5px,4px")))

# ---- L
gg(14, 1048.2, 1373.8, 1750.8, 2001, [-.6, 3.6], [6.957, 10.557], "Diet", "Ophthalmic acid log10 peak intensity", JX, CATS, [7, 8, 9, 10], ["7", "8", "9", "10"],
   3, 0, 12.5, 14.5, 11.5)
boxes(14, L_oph, 58)


# ---- legends (titles placed as text above the entries)
def legend(xl, yt, isize, gap, title, tx, ty, tsize):
    layout["annotations"].append(dict(text=title, xref="paper", yref="paper", x=tx / W, y=1 - ty / H, showarrow=False,
                                      xanchor="left", yanchor="middle", font=dict(family=FONT, size=tsize, color="black")))
    return dict(x=xl / W, y=1 - yt / H, xanchor="left", yanchor="top", bgcolor="rgba(0,0,0,0)", borderwidth=0,
                font=dict(family=FONT, size=isize, color="black"), tracegroupgap=gap, itemclick=False, itemdoubleclick=False)


layout["legend"] = dict(x=130 / W, y=1 - 222 / H, xanchor="left", yanchor="top", bgcolor="rgba(0,0,0,0)",
                        font=dict(family=FONT, size=19.2, color="black"), itemwidth=32)
layout["legend2"] = dict(x=608 / W, y=1 - 222 / H, xanchor="left", yanchor="top", bgcolor="rgba(0,0,0,0)",
                         font=dict(family=FONT, size=19.2, color="black"), itemwidth=32)
layout["legend3"] = legend(556, 1103, 16, 6.2, "Diet", 561, 1090, 20)
layout["legend4"] = legend(1238, 1102, 15.5, 7, "Significance", 1241.6, 1087, 20.5)
layout["legend5"] = legend(517, 1698, 15.2, 6.5, "Significance", 522, 1687, 19.5)
layout["legend6"] = legend(913.5, 1862, 12, 1, "Significant", 923.6, 1853, 15)

# ---- panel letters
for t, x, y in [("A", 19, 20), ("B", 505, 20), ("C", 971, 20), ("D", 17, 445), ("E", 512, 445), ("F", 952, 445),
                ("G", 18, 899), ("H", 692, 899), ("I", 10, 1476), ("J", 649, 1476), ("K", 651, 1748), ("L", 1002, 1748)]:
    layout["annotations"].append(dict(text=t, xref="paper", yref="paper", x=x / W, y=1 - y / H, showarrow=False,
                                      xanchor="center", yanchor="middle",
                                      font=dict(family=FONT, size=28, color="black", weight="bold")))

fig.update_layout(**layout)
fig.write_html("out.html", config=dict(displayModeBar=False), post_script="document.body.style.margin='0';")
